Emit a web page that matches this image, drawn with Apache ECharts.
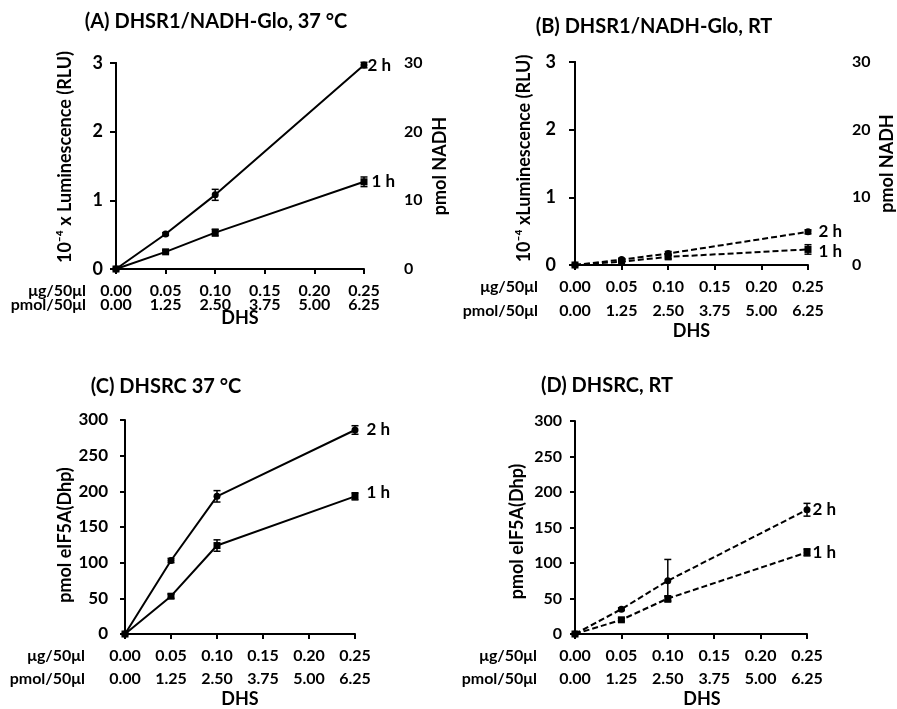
<!DOCTYPE html>
<html>
<head>
<meta charset="utf-8">
<script src="https://cdn.jsdelivr.net/npm/echarts@6/dist/echarts.min.js"></script>
<style>
  html, body { margin: 0; padding: 0; background: #fff; }
  #chart { width: 897px; height: 709px; }
</style>
</head>
<body>
<div id="chart"></div>
<script>
var chart = echarts.init(document.getElementById('chart'));

// DHS amount (ug / 50 ul) for each measured point
var dhsUg = [0, 0.05, 0.10, 0.25];
// tick labels of the two x rows
var xTicksUg = ['0.00', '0.05', '0.10', '0.15', '0.20', '0.25'];
var xTicksPmol = ['0.00', '1.25', '2.50', '3.75', '5.00', '6.25'];

// (A) luminescence, 37 C
var lumA2h = [0, 0.51, 1.08, 2.97];
var errA2h = [0, 0.02, 0.08, 0.04];
var lumA1h = [0, 0.25, 0.53, 1.27];
var errA1h = [0, 0.02, 0.05, 0.07];
// (B) luminescence, RT
var lumB2h = [0, 0.08, 0.17, 0.49];
var errB2h = [0, 0.02, 0.03, 0.03];
var lumB1h = [0, 0.05, 0.12, 0.23];
var errB1h = [0, 0.01, 0.03, 0.07];
// (C) eIF5A(Dhp), 37 C
var eifC2h = [0, 103, 193, 286];
var errC2h = [0, 3, 8, 6];
var eifC1h = [0, 53, 124, 193];
var errC1h = [0, 3, 8, 5];
// (D) eIF5A(Dhp), RT
var eifD2h = [0, 35, 75, 175];
var errD2h = [0, 2, 30, 9];
var eifD1h = [0, 20, 50, 115];
var errD1h = [0, 2, 3, 5];

var FONT = 'Lato';

// layout of the four panels (yShift > 0 moves the y name up)
var panels = [
  { title: '(A) DHSR1/NADH-Glo, 37 °C', tx: 216, ty: 12,
    grid: { left: 116, top: 63, width: 248, height: 206 },
    yMax: 3, yInt: 1, yName: '10⁻⁴ x Luminescence (RLU)', yGap: 42, yMargin: 13, yFont: 18, yShift: 9,
    right: { offset: 35, gap: 32 }, dashed: false,
    s2: lumA2h, e2: errA2h, s1: lumA1h, e1: errA1h,
    lh: 14, lm: 15, headGap: 30, dhsGap: 40, dhsShift: 0,
    lab2: [0, 0], lab1: [4, 0] },
  { title: '(B) DHSR1/NADH-Glo, RT', tx: 654, ty: 17,
    grid: { left: 575, top: 62, width: 233, height: 203 },
    yMax: 3, yInt: 1, yName: '10⁻⁴ xLuminescence (RLU)', yGap: 42, yMargin: 19, yFont: 18, yShift: 5,
    right: { offset: 39, gap: 31 }, dashed: true,
    s2: lumB2h, e2: errB2h, s1: lumB1h, e1: errB1h,
    lh: 24, lm: 10, headGap: 37, dhsGap: 57, dhsShift: 0,
    lab2: [7, 0], lab1: [7, 2] },
  { title: '(C) DHSRC 37 °C', tx: 166, ty: 377,
    grid: { left: 125, top: 420, width: 230, height: 216 },
    yMax: 300, yInt: 50, yName: 'pmol eIF5A(Dhp)', yGap: 51, yMargin: 17, yFont: 17, yShift: -8,
    right: null, dashed: false,
    s2: eifC2h, e2: errC2h, s1: eifC1h, e1: errC1h,
    lh: 23, lm: 10, headGap: 40, dhsGap: 56, dhsShift: 0,
    lab2: [8, 0], lab1: [8, -4] },
  { title: '(D) DHSRC, RT', tx: 607, ty: 376,
    grid: { left: 575, top: 421, width: 232, height: 215 },
    yMax: 300, yInt: 50, yName: 'pmol eIF5A(Dhp)', yGap: 49, yMargin: 13, yFont: 16, yShift: -4,
    right: null, dashed: true,
    s2: eifD2h, e2: errD2h, s1: eifD1h, e1: errD1h,
    lh: 23, lm: 10, headGap: 38, dhsGap: 56, dhsShift: 22,
    lab2: [2, 0], lab1: [2, 0] }
];

function errorBars(params, api) {
  var x = api.value(0), y = api.value(1), e = api.value(2);
  if (!e) return;
  var top = api.coord([x, y + e]);
  var bot = api.coord([x, y - e]);
  var w = 3.5;
  var st = { stroke: '#000', lineWidth: 1.5 };
  return {
    type: 'group',
    children: [
      { type: 'line', shape: { x1: top[0], y1: top[1], x2: bot[0], y2: bot[1] }, style: st },
      { type: 'line', shape: { x1: top[0] - w, y1: top[1], x2: top[0] + w, y2: top[1] }, style: st },
      { type: 'line', shape: { x1: bot[0] - w, y1: bot[1], x2: bot[0] + w, y2: bot[1] }, style: st }
    ]
  };
}

var option = {
  animation: false,
  backgroundColor: '#fff',
  textStyle: { fontFamily: FONT },
  title: [], grid: [], xAxis: [], yAxis: [], series: []
};

panels.forEach(function (p, i) {
  option.title.push({
    text: p.title, left: p.tx, top: p.ty, textAlign: 'center', padding: 0,
    textStyle: { fontFamily: FONT, fontSize: 20, fontWeight: 'bold', color: '#000' }
  });
  option.grid.push(p.grid);

  var xMain = option.xAxis.length;
  option.xAxis.push({
    type: 'value', gridIndex: i, position: 'bottom', min: 0, max: 0.25, interval: 0.05,
    splitLine: { show: false },
    axisLine: { lineStyle: { color: '#000', width: 2 } },
    axisTick: { length: 5, lineStyle: { color: '#000', width: 2 } },
    axisLabel: {
      margin: p.lm, color: '#000', fontFamily: FONT, fontSize: 16, fontWeight: 'bold',
      lineHeight: p.lh,
      formatter: function (v) {
        var k = Math.round(v / 0.05);
        return xTicksUg[k] + '\n' + xTicksPmol[k];
      }
    },
    name: 'μg/50μl\npmol/50μl', nameLocation: 'start', nameGap: p.headGap,
    nameTextStyle: {
      color: '#000', fontFamily: FONT, fontSize: 16, fontWeight: 'bold',
      align: 'right', verticalAlign: 'top', lineHeight: p.lh, padding: [p.lm, 0, 0, 0]
    }
  });
  option.xAxis.push({
    type: 'value', gridIndex: i, position: 'bottom', min: 0, max: 0.25, interval: 0.05,
    axisLine: { show: false }, axisTick: { show: false }, axisLabel: { show: false },
    splitLine: { show: false },
    name: 'DHS', nameLocation: 'middle', nameGap: p.dhsGap,
    nameTextStyle: {
      color: '#000', fontFamily: FONT, fontSize: 18, fontWeight: 'bold',
      padding: [0, 0, 0, p.dhsShift]
    }
  });

  var yMain = option.yAxis.length;
  var sh = p.yShift * 2;
  option.yAxis.push({
    type: 'value', gridIndex: i, position: 'left', min: 0, max: p.yMax, interval: p.yInt,
    splitLine: { show: false },
    axisLine: { show: true, lineStyle: { color: '#000', width: 2 } },
    axisTick: { show: true, length: 5, lineStyle: { color: '#000', width: 2 } },
    axisLabel: { margin: p.yMargin, color: '#000', fontFamily: FONT, fontSize: p.yFont, fontWeight: 'bold' },
    name: p.yName, nameLocation: 'middle', nameGap: p.yGap, nameRotate: 90,
    nameTextStyle: {
      color: '#000', fontFamily: FONT, fontSize: 18, fontWeight: 'bold',
      padding: [0, sh < 0 ? -sh : 0, 0, sh > 0 ? sh : 0]
    }
  });
  if (p.right) {
    option.yAxis.push({
      type: 'value', gridIndex: i, position: 'right', offset: p.right.offset,
      min: 0, max: 30, interval: 10,
      splitLine: { show: false },
      axisLine: { show: true, lineStyle: { color: '#000', width: 2 } },
      axisTick: { show: true, inside: true, length: 6, lineStyle: { color: '#000', width: 2 } },
      axisLabel: { margin: 5, color: '#000', fontFamily: FONT, fontSize: 16, fontWeight: 'bold' },
      name: 'pmol NADH', nameLocation: 'middle', nameGap: p.right.gap, nameRotate: 90,
      nameTextStyle: { color: '#000', fontFamily: FONT, fontSize: 18, fontWeight: 'bold' }
    });
  }

  var lineStyle = { color: '#000', width: 2, type: p.dashed ? [6, 3] : 'solid' };
  [
    { name: '2 h', vals: p.s2, errs: p.e2, symbol: 'circle', size: 7, dist: p.lab2 },
    { name: '1 h', vals: p.s1, errs: p.e1, symbol: 'rect', size: 7, dist: p.lab1 }
  ].forEach(function (s) {
    var last = dhsUg.length - 1;
    option.series.push({
      type: 'line', name: s.name, xAxisIndex: xMain, yAxisIndex: yMain,
      symbol: s.symbol, symbolSize: s.size, showAllSymbol: true,
      itemStyle: { color: '#000' }, lineStyle: lineStyle,
      label: { show: false },
      data: dhsUg.map(function (x, k) {
        var item = { value: [x, s.vals[k]] };
        if (k === last) {
          item.label = {
            show: true, position: 'right', distance: s.dist[0], offset: [0, s.dist[1]],
            formatter: s.name, color: '#000', fontFamily: FONT, fontSize: 17, fontWeight: 'bold'
          };
        }
        return item;
      })
    });
    option.series.push({
      type: 'custom', xAxisIndex: xMain, yAxisIndex: yMain, clip: false, z: 3,
      renderItem: errorBars,
      encode: { x: 0, y: 1 },
      data: dhsUg.map(function (x, k) { return [x, s.vals[k], s.errs[k]]; })
    });
  });
});

chart.setOption(option);
</script>
</body>
</html>
